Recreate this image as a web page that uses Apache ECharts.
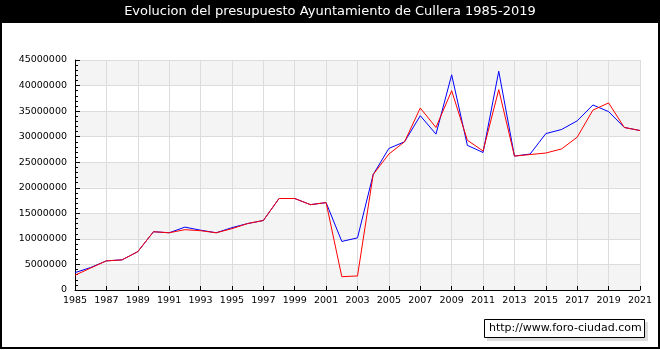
<!DOCTYPE html>
<html>
<head>
<meta charset="utf-8">
<script src="https://cdn.jsdelivr.net/npm/echarts@6/dist/echarts.min.js"></script>
<style>
  html, body { margin: 0; padding: 0; background: #fff; }
  #chart { width: 660px; height: 350px; }
</style>
</head>
<body>
<div id="chart"></div>
<script>
// años y presupuesto (dos series: azul y rojo)
const years = [1985, 1986, 1987, 1988, 1989, 1990, 1991, 1992, 1993, 1994, 1995, 1996, 1997, 1998, 1999, 2000, 2001, 2002, 2003,
  2004, 2005, 2006, 2007, 2008, 2009, 2010, 2011, 2012, 2013, 2014, 2015, 2016, 2017, 2018, 2019, 2020, 2021];
const blueValues = [3400000, 4400000, 5700000, 5900000, 7500000, 11400000, 11200000, 12300000, 11700000, 11200000, 12200000, 13000000, 13600000,
  17900000, 17900000, 16700000, 17100000, 9500000, 10200000, 22600000, 27700000, 29000000, 34100000, 30500000, 42100000,
  28300000, 26900000, 42800000, 26200000, 26600000, 30600000, 31400000, 33100000, 36200000, 34900000, 31800000, 31200000];
const redValues = [2900000, 4300000, 5700000, 5900000, 7500000, 11400000, 11200000, 11800000, 11600000, 11200000, 12000000, 13000000, 13600000,
  17900000, 17900000, 16700000, 17100000, 2600000, 2750000, 22600000, 26600000, 29000000, 35600000, 31800000, 39000000,
  29300000, 27200000, 39200000, 26200000, 26500000, 26800000, 27600000, 29900000, 35200000, 36600000, 31800000, 31200000];

const titleText = 'Evolucion del presupuesto Ayuntamiento de Cullera 1985-2019';
const watermark = 'http://www.foro-ciudad.com';

const chart = echarts.init(document.getElementById('chart'));
const font = 'DejaVu Sans';

chart.setOption({
  animation: false,
  textStyle: { fontFamily: font },
  grid: { left: 75, right: 20, top: 60, bottom: 60 },
  xAxis: {
    type: 'value',
    min: 1985,
    max: 2021,
    interval: 2,
    axisLine: { lineStyle: { color: '#000', width: 1 } },
    axisTick: { inside: true, length: 4, lineStyle: { color: '#000' } },
    axisLabel: { color: '#000', fontSize: 9.5, margin: 6, formatter: v => String(v) },
    splitLine: { show: true, lineStyle: { color: '#dcdcdc', width: 1 } }
  },
  yAxis: {
    type: 'value',
    min: 0,
    max: 45000000,
    interval: 5000000,
    axisLine: { show: true, lineStyle: { color: '#000', width: 1 } },
    axisTick: { show: true, inside: true, length: 5, lineStyle: { color: '#000' } },
    minorTick: { show: true, splitNumber: 5, length: 3, lineStyle: { color: '#000' } },
    axisLabel: { color: '#000', fontSize: 9.5, margin: 8, formatter: v => String(v) },
    splitLine: { show: true, lineStyle: { color: '#dcdcdc', width: 1 } },
    splitArea: { show: true, areaStyle: { color: ['#f4f4f4', '#ffffff'] } }
  },
  series: [
    {
      type: 'line',
      data: years.map((y, i) => [y, blueValues[i]]),
      showSymbol: false,
      lineStyle: { color: '#0000ff', width: 1 },
      itemStyle: { color: '#0000ff' }
    },
    {
      type: 'line',
      data: years.map((y, i) => [y, redValues[i]]),
      showSymbol: false,
      lineStyle: { color: '#ff0000', width: 1 },
      itemStyle: { color: '#ff0000' }
    }
  ],
  graphic: [
    // banda negra del título
    { type: 'rect', shape: { x: 0, y: 0, width: 660, height: 23 }, style: { fill: '#000' }, z: 100 },
    {
      type: 'text', x: 330, y: 12, z: 101,
      style: { text: titleText, fill: '#fff', font: '13px "DejaVu Sans"', align: 'center', verticalAlign: 'middle' }
    },
    // marco
    { type: 'rect', shape: { x: 1, y: 1, width: 658, height: 347 }, style: { fill: null, stroke: '#000', lineWidth: 2 }, z: 100 },
    // caja de la web
    { type: 'rect', shape: { x: 487, y: 322, width: 161, height: 19 }, style: { fill: '#dddddd' }, z: 100 },
    { type: 'rect', shape: { x: 484.5, y: 319.5, width: 160, height: 18 }, style: { fill: '#fff', stroke: '#000', lineWidth: 1 }, z: 101 },
    {
      type: 'text', x: 489, y: 328.5, z: 102,
      style: { text: watermark, fill: '#000', font: '11px "DejaVu Sans"', verticalAlign: 'middle' }
    }
  ]
});
</script>
</body>
</html>
